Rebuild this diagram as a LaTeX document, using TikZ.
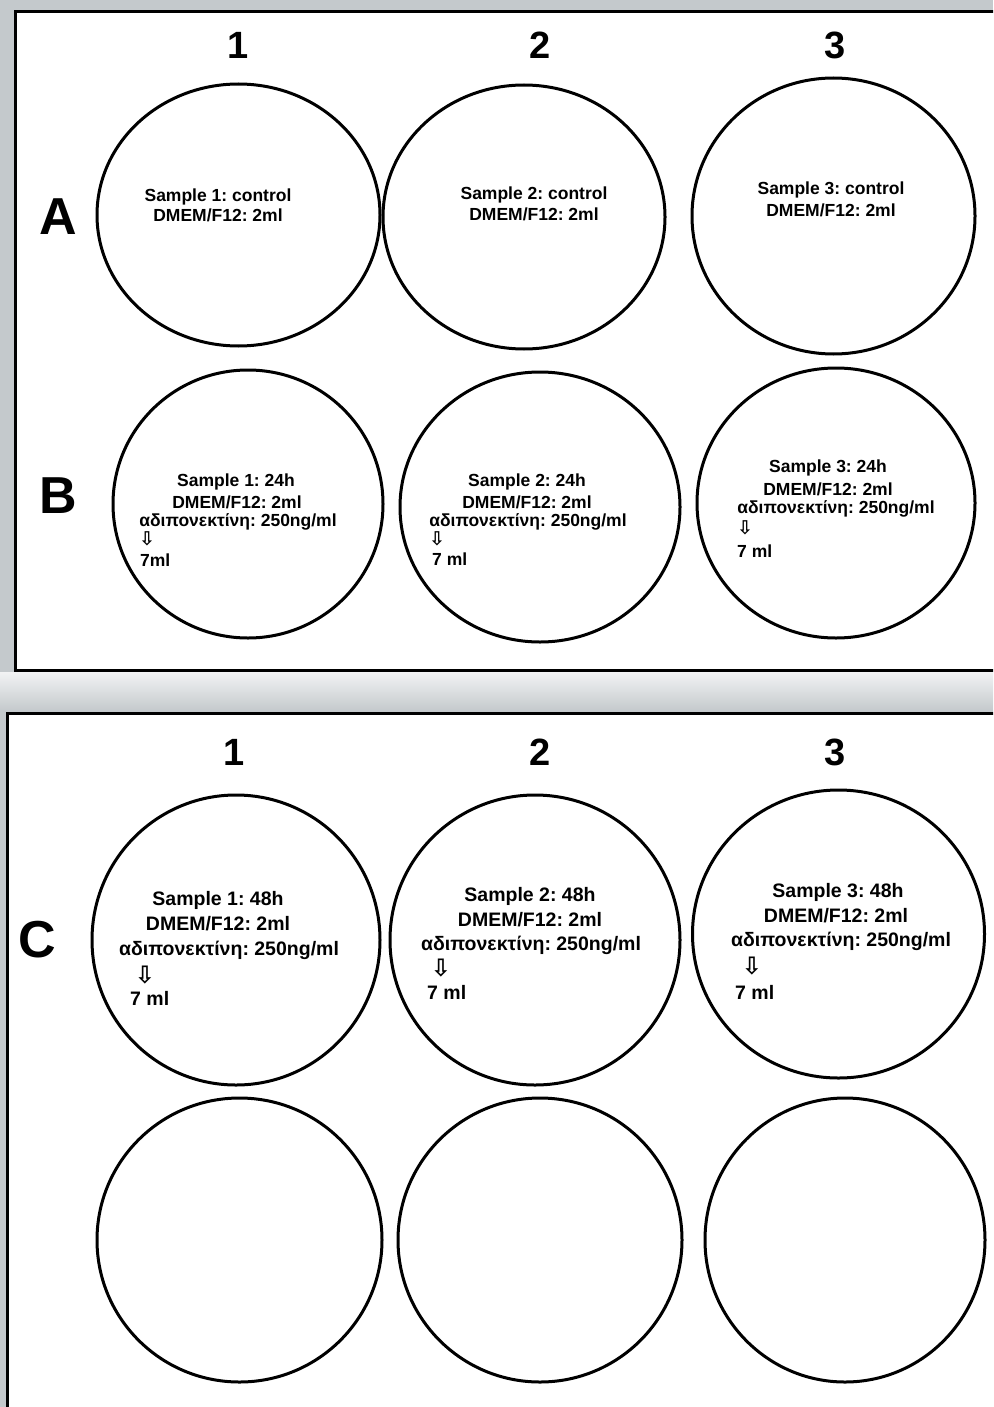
\documentclass[tikz,border=0pt]{standalone}
\usepackage{fontspec}
\setmainfont{Liberation Sans}
\newfontfamily\arrowfont{DejaVu Sans}
\usetikzlibrary{shapes.geometric}
\definecolor{bggray}{HTML}{C4C9CC}
\definecolor{gaplight}{HTML}{F2F3F4}
\frenchspacing
\begin{document}
\begin{tikzpicture}[x=1pt,y={(0,-1pt)},
  well/.style={ellipse, draw, line width=3pt, inner sep=0pt},
  frame/.style={draw, line width=3pt, fill=white},
  collabel/.style={font=\bfseries\fontsize{38}{38}\selectfont},
  rowlabel/.style={font=\bfseries\fontsize{52}{52}\selectfont},
  txtB/.style={font=\bfseries\fontsize{17.5}{17.5}\selectfont, inner sep=0pt},
  txtC/.style={font=\bfseries\fontsize{19.5}{19.5}\selectfont, inner sep=0pt},
  arrB/.style={font=\arrowfont\bfseries\fontsize{19}{19}\selectfont, inner sep=0pt},
  arrC/.style={font=\arrowfont\bfseries\fontsize{24}{24}\selectfont, inner sep=0pt}]
\useasboundingbox (0,0) rectangle (993,1407);
\clip (0,0) rectangle (993,1407);
\fill[bggray] (0,0) rectangle (993,1407);
% gap between panels
\shade[top color=gaplight, bottom color=bggray] (0,672) rectangle (993,711);
% panels
\node[frame, minimum width=1010pt, minimum height=659pt, anchor=north west, inner sep=0pt] (top) at (14,10) {};
\node[frame, minimum width=1010pt, minimum height=720pt, anchor=north west, inner sep=0pt] (bottom) at (6,712) {};

% ---------- top panel ----------
\node[collabel] (t1) at (238,45) {1};
\node[collabel] (t2) at (540,45) {2};
\node[collabel] (t3) at (835,45) {3};
\node[rowlabel] (ra) at (58,217) {A};
\node[rowlabel] (rb) at (58,496) {B};

\node[well, minimum width=283pt, minimum height=262pt] (a1) at (238.5,215) {};
\node[well, minimum width=282pt, minimum height=264pt] (a2) at (524,217) {};
\node[well, minimum width=283pt, minimum height=276pt] (a3) at (833.5,216) {};
\node[well, minimum width=270pt, minimum height=268pt] (b1) at (248,504) {};
\node[well, minimum width=280pt, minimum height=270pt] (b2) at (540,507) {};
\node[well, minimum width=278pt, minimum height=270pt] (b3) at (836,503) {};

\node[txtB] (a1l1) at (218,197) {Sample 1: control};
\node[txtB] (a1l2) at (218,215) {DMEM/F12: 2ml};
\node[txtB] (a2l1) at (534,195) {Sample 2: control};
\node[txtB] (a2l2) at (534,214) {DMEM/F12: 2ml};
\node[txtB] (a3l1) at (831,190) {Sample 3: control};
\node[txtB] (a3l2) at (831,210) {DMEM/F12: 2ml};

\node[txtB] (b1l1) at (236,482) {Sample 1: 24h};
\node[txtB] (b1l2) at (237,502) {DMEM/F12: 2ml};
\node[txtB] (b1l3) at (238,522) {αδιπονεκτίνη: 250ng/ml};
\node[arrB] (b1ar) at (147,539) {⇩};
\node[txtB, anchor=west] (b1l4) at (140,560) {7ml};

\node[txtB] (b2l1) at (527,482) {Sample 2: 24h};
\node[txtB] (b2l2) at (527,502) {DMEM/F12: 2ml};
\node[txtB] (b2l3) at (528,522) {αδιπονεκτίνη: 250ng/ml};
\node[arrB] (b2ar) at (437,539) {⇩};
\node[txtB, anchor=west] (b2l4) at (432,559) {7 ml};

\node[txtB] (b3l1) at (828,468) {Sample 3: 24h};
\node[txtB] (b3l2) at (828,489) {DMEM/F12: 2ml};
\node[txtB] (b3l3) at (836,509) {αδιπονεκτίνη: 250ng/ml};
\node[arrB] (b3ar) at (745,528) {⇩};
\node[txtB, anchor=west] (b3l4) at (737,551) {7 ml};

% ---------- bottom panel ----------
\node[collabel] (u1) at (234,752) {1};
\node[collabel] (u2) at (540,752) {2};
\node[collabel] (u3) at (835,752) {3};
\node[rowlabel] (rc) at (37,940) {C};

\node[well, minimum width=288pt, minimum height=290pt] (c1) at (236,940) {};
\node[well, minimum width=290pt, minimum height=290pt] (c2) at (535,940) {};
\node[well, minimum width=292pt, minimum height=288pt] (c3) at (838.5,934) {};
\node[well, minimum width=285pt, minimum height=284pt] (d1) at (239.5,1240) {};
\node[well, minimum width=284pt, minimum height=284pt] (d2) at (540,1240) {};
\node[well, minimum width=280pt, minimum height=284pt] (d3) at (845,1240) {};

\node[txtC] (c1l1) at (218,900) {Sample 1: 48h};
\node[txtC] (c1l2) at (218,924) {DMEM/F12: 2ml};
\node[txtC] (c1l3) at (229,950) {αδιπονεκτίνη: 250ng/ml};
\node[arrC] (c1ar) at (145,975) {⇩};
\node[txtC, anchor=west] (c1l4) at (130,998) {7 ml};

\node[txtC] (c2l1) at (530,896) {Sample 2: 48h};
\node[txtC] (c2l2) at (530,920) {DMEM/F12: 2ml};
\node[txtC] (c2l3) at (531,945) {αδιπονεκτίνη: 250ng/ml};
\node[arrC] (c2ar) at (441,968) {⇩};
\node[txtC, anchor=west] (c2l4) at (427,992) {7 ml};

\node[txtC] (c3l1) at (838,892) {Sample 3: 48h};
\node[txtC] (c3l2) at (836,916) {DMEM/F12: 2ml};
\node[txtC] (c3l3) at (841,941) {αδιπονεκτίνη: 250ng/ml};
\node[arrC] (c3ar) at (752,966) {⇩};
\node[txtC, anchor=west] (c3l4) at (735,992) {7 ml};
\end{tikzpicture}
\end{document}
